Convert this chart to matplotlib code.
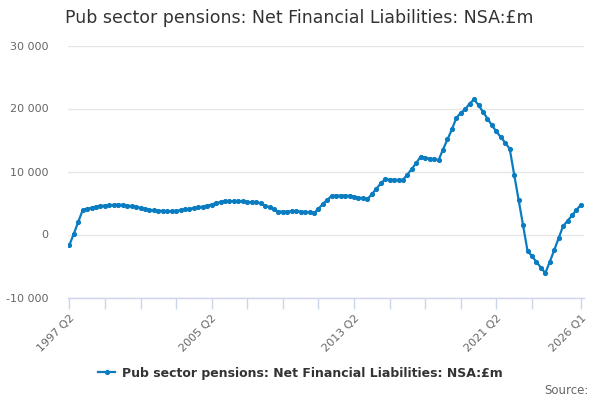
import matplotlib
matplotlib.use("Agg")
import matplotlib.pyplot as plt
from matplotlib.ticker import FuncFormatter

title = "Pub sector pensions: Net Financial Liabilities: NSA:£m"
series_name = "Pub sector pensions: Net Financial Liabilities: NSA:£m"

# Quarterly categories 1997 Q2 .. 2026 Q1
quarters = []
y, q = 1997, 2
while (y, q) <= (2026, 1):
    quarters.append(f"{y} Q{q}")
    q += 1
    if q > 4:
        q = 1
        y += 1

values = [
    -1700, 100, 2000, 3860, 4080, 4240, 4440, 4550, 4600, 4650,
    4700, 4760, 4700, 4600, 4500, 4400, 4250, 4080, 3900, 3820,
    3800, 3750, 3700, 3700, 3750, 3870, 3980, 4080, 4200, 4300,
    4440, 4600, 4760, 4970, 5180, 5290, 5290, 5290, 5290, 5290,
    5180, 5130, 5080, 4970, 4600, 4290, 3970, 3650, 3650, 3650,
    3700, 3700, 3650, 3600, 3540, 3390, 4080, 4870, 5500, 6140,
    6190, 6190, 6190, 6140, 6030, 5870, 5760, 5610, 6400, 7250,
    8100, 8780, 8730, 8700, 8680, 8680, 9520, 10420, 11370, 12380,
    12170, 12060, 11960, 11800, 13490, 15080, 16670, 18520, 19310, 19890,
    20790, 21430, 20530, 19450, 18400, 17320, 16350, 15450, 14550, 13600,
    9520, 5500, 1480, -2590, -3440, -4340, -5240, -6140, -4340, -2490,
    -580, 1330, 2170, 3020, 3910, 4710,
]

label_quarters = ["1997 Q2", "2005 Q2", "2013 Q2", "2021 Q2", "2026 Q1"]
y_ticks = [-10000, 0, 10000, 20000, 30000]

LINE = "#0a7cc1"
fig = plt.figure(figsize=(6, 4), dpi=100)
ax = fig.add_axes([68/600, 1 - 297.5/400, (584-68)/600, (297.5-45.5)/400])

xs = list(range(len(values)))
ax.plot(xs, values, color=LINE, lw=1.6, marker="o", ms=2.7, zorder=3)

ax.set_ylim(-10000, 30000)
ax.set_xlim(-0.3, len(values) - 1 + 0.7)
ax.set_yticks(y_ticks)
ax.yaxis.set_major_formatter(FuncFormatter(lambda v, p: f"{int(v):,}".replace(",", " ")))
ax.grid(axis="y", color="#e6e6e6", lw=1)
ax.set_axisbelow(True)

minor = [i for i in range(0, len(values), 8) if i <= 104] + [len(values) - 1]
ax.set_xticks(minor)
labels = []
for i in minor:
    labels.append(quarters[i] if quarters[i] in label_quarters else "")
ax.set_xticklabels(labels, rotation=45, ha="right", rotation_mode="anchor",
                   fontsize=8, color="#666666")
ax.tick_params(axis="x", length=8, color="#ccd6eb", width=1, pad=3)
ax.tick_params(axis="y", length=0, labelsize=8, labelcolor="#666666", pad=14)

for s in ["top", "right", "left"]:
    ax.spines[s].set_visible(False)
ax.spines["bottom"].set_color("#ccd6eb")
ax.spines["bottom"].set_linewidth(1)

fig.text(65/600, 1 - 18/400, title, fontsize=12.5, color="#333333", va="center", ha="left")

leg = fig.legend([ax.lines[0]], [series_name], loc="center", bbox_to_anchor=(300/600, 1 - 373/400),
                 frameon=False, handlelength=1.4, handletextpad=0.5,
                 prop={"weight": "bold", "size": 9})
for t in leg.get_texts():
    t.set_color("#333333")

fig.text(589/600, 1 - 390/400, "Source:", fontsize=8.5, color="#666666", ha="right", va="center")

fig.savefig("out.png", dpi=100)
